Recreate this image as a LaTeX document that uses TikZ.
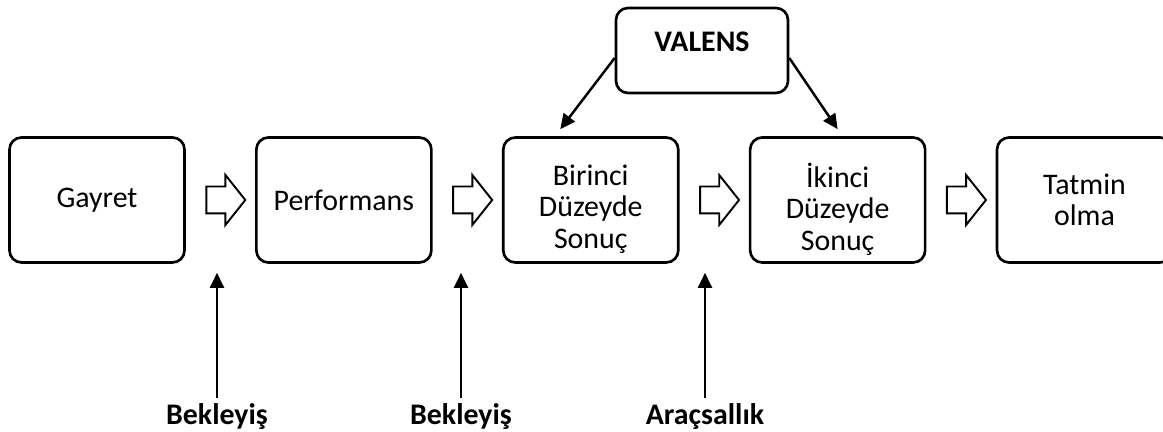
\documentclass[tikz,border=0pt]{standalone}
\usepackage{fontspec}
\setmainfont{Carlito}
\usetikzlibrary{shapes,shapes.arrows,calc,positioning,arrows.meta}

\begin{document}
\begin{tikzpicture}[
    stage/.style={rectangle, rounded corners=0.24cm, draw, line width=1.5pt, minimum width=3.5cm, minimum height=2.5cm, align=center, font=\fontsize{17}{18}\selectfont},
    flow/.style={single arrow, draw, line width=1.1pt, inner xsep=0pt, inner ysep=0.25cm, minimum height=0.78cm, single arrow head extend=0.23cm, single arrow tip angle=103},
    factor/.style={font=\fontsize{17}{18}\selectfont\bfseries, anchor=base},
    link/.style={line width=1.4pt, -{Triangle[length=0.3cm,width=0.28cm]}}]
    \useasboundingbox (0,0) rectangle (23.26,8.64);
    % the chain
    \node[stage] (G) at (1.94,4.64) {Gayret};
    \node[stage, right=1.385cm of G] (P) {Performans};
    \node[stage, right=1.385cm of P, label={[align=center, yshift=-0.18cm, font=\fontsize{17}{18}\selectfont]center:Birinci\\Düzeyde\\Sonuç}] (S1) {};
    \node[stage, right=1.385cm of S1, label={[align=center, yshift=-0.18cm, font=\fontsize{17}{18}\selectfont]center:İkinci\\Düzeyde\\Sonuç}] (S2) {};
    \node[stage, right=1.385cm of S2] (T) {Tatmin\\olma};
    \node[flow] (f1) at ($(G)!0.5!(P)$) {};
    \node[flow] (f2) at ($(P)!0.5!(S1)$) {};
    \node[flow] (f3) at ($(S1)!0.5!(S2)$) {};
    \node[flow] (f4) at ($(S2)!0.5!(T)$) {};
    % valence
    \node[stage, minimum width=3.44cm, minimum height=1.7cm, label={[yshift=0.17cm, font=\fontsize{17}{18}\selectfont\bfseries]center:VALENS}] (V) at (14.04,7.63) {};
    \draw[link] ([yshift=-0.15cm]V.west) -- ([xshift=-0.61cm, yshift=0.14cm]S1.north);
    \draw[link] ([yshift=-0.15cm]V.east) -- ([yshift=0.14cm]S2.north);
    % expectancy and instrumentality
    \node[factor] (E1) at (4.34,0.14) {Bekleyiş};
    \node[factor] (E2) at (9.22,0.14) {Bekleyiş};
    \node[factor] (A) at (14.1,0.14) {Araçsallık};
    \draw[link, shorten >=0.18cm] (E1.north) -- (E1.north |- G.south);
    \draw[link, shorten >=0.18cm] (E2.north) -- (E2.north |- P.south);
    \draw[link, shorten >=0.18cm] (A.north) -- (A.north |- S1.south);
\end{tikzpicture}
\end{document}
